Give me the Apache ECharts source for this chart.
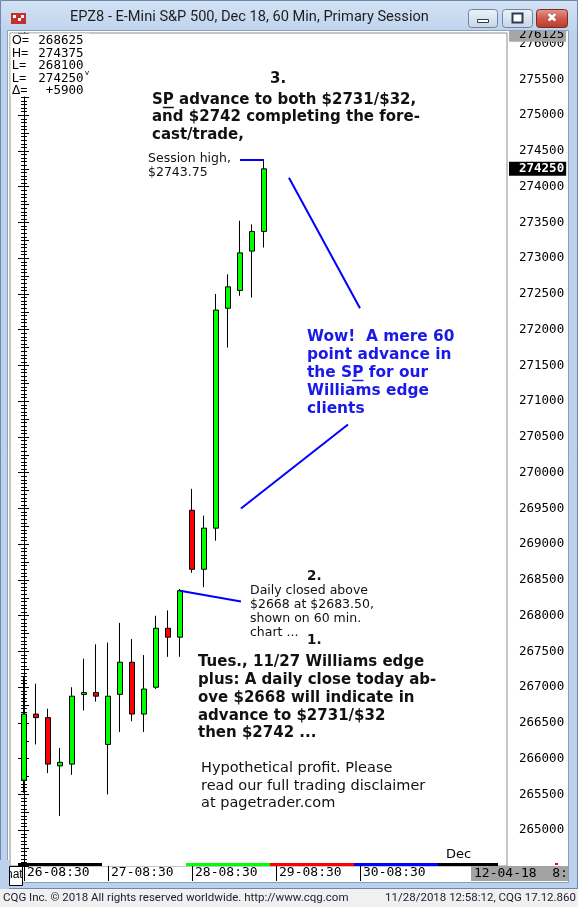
<!DOCTYPE html>
<html><head><meta charset="utf-8">
<script src="https://cdn.jsdelivr.net/npm/echarts@6/dist/echarts.min.js"></script>
<style>html,body{margin:0;padding:0;background:#fff}#c{width:578px;height:907px}</style>
</head><body><div id="c"></div>
<script>
// ---------------- data ----------------
const chartTitle = 'EPZ8 - E-Mini S&P 500, Dec 18, 60 Min, Primary Session';
const barsPerSession = 7;
const candleOpen  = [265700,266625,266575,265900,265925,266900,266925,266200,266900,267350,266625,267000,267825,267700,269475,268650,269225,272300,272550,273100,273375];
const candleClose = [266625,266575,265925,265950,266875,266925,266875,266875,267350,266625,266975,267825,267700,268350,268650,269225,272275,272600,273075,273375,274250];
const candleLow   = [265525,266200,265800,265200,265775,266675,266800,265500,266375,266525,266375,266975,267425,267425,268600,268400,269050,271750,272475,272450,273150];
const candleHigh  = [267150,267050,266700,266150,267000,267400,267600,267625,267900,267675,267450,268000,268075,268375,269775,269400,272500,272775,273525,273475,274375];
const sessionLabels = ['26-08:30','27-08:30','28-08:30','29-08:30','30-08:30'];
const sessionBandColors = ['#000000','#ffffff','#00ff00','#ff0000','#0000ff','#000000'];
const monthLabel = 'Dec';
const monthStartSession = 5;
const headerLabels = ['O=','H=','L=','L=','\u0394='];
const headerValues = ['268625','274375','268100','274250','+5900'];
const lastPrice = 274250;
const scaleTopValue = 276125;
const sessionHigh = 274375;
const dailyClose = 268350;
const yMin = 264500, yMax = 276150, yStep = 500;
const footerLeft = 'CQG Inc. \u00a9 2018 All rights reserved worldwide. http://www.cqg.com';
const footerRight = '11/28/2018 12:58:12, CQG 17.12.860';

// ---------------- chart ----------------
const chart = echarts.init(document.getElementById('c'), null, {renderer:'canvas', width:578, height:907});
const MONO = '"DejaVu Sans Mono", monospace';
const VERD = '"DejaVu Sans", Verdana, sans-serif';
const xMin = -14/12, xMax = -14/12 + 497/12;
const tickIdx = sessionLabels.map((_, i) => i * barsPerSession);
const candleData = candleOpen.map((o, i) => [i, o, candleClose[i], candleLow[i], candleHigh[i]]);
const lastSlot = 39.5;
const bandData = sessionBandColors.map((c, s) => [s * barsPerSession - 0.5, Math.min((s + 1) * barsPerSession - 0.5, lastSlot), s]);

const blue = '#0000ff';
const annLine = (a, b) => [{coord: a, lineStyle: {color: blue, width: 2, type: 'solid', opacity: 1}}, {coord: b}];

// measure helper for underlines
const mctx = document.createElement('canvas').getContext('2d');
function tw(txt, font) { mctx.font = font; return mctx.measureText(txt).width; }

const boldFont = 'bold 15px "DejaVu Sans"';
const txtGraphic = [];
function T(x, y, text, font, size, weight, color, lh, align) {
  txtGraphic.push({type: 'text', x: x, y: y, z: 120, silent: true,
    style: {text: text, fontFamily: font, fontSize: size, fontWeight: weight, fill: color, lineHeight: lh, verticalAlign: 'top', align: align || 'left'}});
}
// header box (covers the left ticks like the original)
txtGraphic.push({type:'rect', z:115, silent:true, shape:{x:10.5, y:33.5, width:79, height:63}, style:{fill:'#fff'}});
headerLabels.forEach((l, i) => {
  T(12, 34.5 + i * 12.5, l, '"Liberation Sans", Arial', 12.5, 'normal', '#000', 13);
  T(83.5, 34.5 + i * 12.5, headerValues[i], MONO, 12.5, 'normal', '#000', 13, 'right');
});
T(85, 69, 'v', '"Liberation Sans", Arial', 8, 'normal', '#000', 8);

// annotation texts
T(270, 71, '3.', VERD, 15, 'bold', '#111', 17);
T(152, 91, 'SP advance to both $2731/$32,\nand $2742 completing the fore-\ncast/trade,', VERD, 15, 'bold', '#111', 17.7);
T(148, 152, 'Session high,\n$2743.75', VERD, 12.5, 'normal', '#111', 13.7);
T(307, 328, 'Wow!  A mere 60\npoint advance in\nthe SP for our\nWilliams edge\nclients', VERD, 15.4, 'bold', '#1a1ae8', 18);
T(307, 569, '2.', VERD, 13.5, 'bold', '#111', 15);
T(250, 584, 'Daily closed above\n$2668 at $2683.50,\nshown on 60 min.\nchart ...', VERD, 12.5, 'normal', '#111', 13.9);
T(307, 633, '1.', VERD, 13.5, 'bold', '#111', 15);
T(198, 653, 'Tues., 11/27 Williams edge\nplus: A daily close today ab-\nove $2668 will indicate in\nadvance to $2731/$32\nthen $2742 ...', VERD, 15, 'bold', '#111', 17.9);
T(201, 759.5, 'Hypothetical profit. Please\nread our full trading disclaimer\nat pagetrader.com', VERD, 14.5, 'normal', '#111', 17.5);
// underlines under "P" of SP
const wS = tw('S', boldFont), wP = tw('P', boldFont);
const wowFont = 'bold 15.4px "DejaVu Sans"';
const wTheS = tw('the S', wowFont), wP2 = tw('P', wowFont);
txtGraphic.push({type:'line', z:120, silent:true, shape:{x1:152 + wS, y1:107.5, x2:152 + wS + wP, y2:107.5}, style:{stroke:'#111', lineWidth:1.5}});
txtGraphic.push({type:'line', z:120, silent:true, shape:{x1:307 + wTheS, y1:380.5, x2:307 + wTheS + wP2, y2:380.5}, style:{stroke:'#1a1ae8', lineWidth:1.5}});

// window chrome
const frame = '#bcd2ec';
const chrome = [
  {type:'rect', z:100, silent:true, shape:{x:0, y:0, width:578, height:31}, style:{fill:{type:'linear', x:0, y:0, x2:0, y2:1, colorStops:[{offset:0, color:'#d3e2f4'}, {offset:1, color:'#bfd4ed'}]}}},
  {type:'rect', z:100, silent:true, shape:{x:0, y:31, width:8, height:858}, style:{fill:frame}},
  {type:'rect', z:100, silent:true, shape:{x:568, y:31, width:10, height:858}, style:{fill:frame}},
  {type:'rect', z:100, silent:true, shape:{x:0, y:882, width:578, height:7}, style:{fill:frame}},
  {type:'rect', z:100, silent:true, shape:{x:0.5, y:0.5, width:577, height:888}, style:{fill:null, stroke:'#6e88aa', lineWidth:1}},
  {type:'rect', z:100, silent:true, shape:{x:7.5, y:30.5, width:561, height:852}, style:{fill:null, stroke:'#8aa0bb', lineWidth:1}},
  {type:'rect', z:100, silent:true, shape:{x:0, y:889, width:578, height:18}, style:{fill:'#f0f0f0'}},
  // icon
  {type:'rect', z:101, silent:true, shape:{x:11, y:13, width:15, height:11}, style:{fill:'#c4312b'}},
  {type:'rect', z:102, silent:true, shape:{x:13, y:15, width:3, height:3}, style:{fill:'#fff'}},
  {type:'rect', z:102, silent:true, shape:{x:18, y:18, width:3, height:3}, style:{fill:'#fff'}},
  {type:'rect', z:102, silent:true, shape:{x:21, y:15, width:3, height:3}, style:{fill:'#fff'}},
  // buttons
  {type:'rect', z:101, silent:true, shape:{x:468.5, y:9.5, width:29, height:18, r:3}, style:{fill:{type:'linear', x:0, y:0, x2:0, y2:1, colorStops:[{offset:0, color:'#eef3fa'}, {offset:1, color:'#c6d4e6'}]}, stroke:'#6f84a3', lineWidth:1}},
  {type:'rect', z:102, silent:true, shape:{x:477.5, y:19.5, width:11, height:3}, style:{fill:'#fff', stroke:'#2d3b50', lineWidth:1}},
  {type:'rect', z:101, silent:true, shape:{x:502.5, y:9.5, width:30, height:18, r:3}, style:{fill:{type:'linear', x:0, y:0, x2:0, y2:1, colorStops:[{offset:0, color:'#eef3fa'}, {offset:1, color:'#c6d4e6'}]}, stroke:'#6f84a3', lineWidth:1}},
  {type:'rect', z:102, silent:true, shape:{x:512.5, y:13.5, width:10, height:9}, style:{fill:'#fff', stroke:'#2d3b50', lineWidth:2}},
  {type:'rect', z:101, silent:true, shape:{x:536.5, y:9.5, width:31, height:18, r:3}, style:{fill:{type:'linear', x:0, y:0, x2:0, y2:1, colorStops:[{offset:0, color:'#e49a8f'}, {offset:0.5, color:'#cf5a4b'}, {offset:1, color:'#b83a2a'}]}, stroke:'#7b2a22', lineWidth:1}},
  {type:'text', z:103, silent:true, x:552, y:18.5, style:{text:'\u2716', fontSize:13, fill:'#fff', align:'center', verticalAlign:'middle', fontFamily:'"DejaVu Sans"', stroke:'#7b2a22', lineWidth:0.5}},
  // hat box
  {type:'rect', z:104, silent:true, shape:{x:9.5, y:866.5, width:13, height:19}, style:{fill:'#fff', stroke:'#000', lineWidth:1}},
  {type:'text', z:105, silent:true, x:6, y:869, style:{text:'hat', fontSize:12, fill:'#000', fontFamily:'"Liberation Sans"', verticalAlign:'top'}},
  {type:'rect', z:106, silent:true, shape:{x:0, y:860, width:9, height:29}, style:{fill:frame}},
  // footer
  {type:'text', z:110, silent:true, x:3, y:898.5, style:{text:footerLeft, fontSize:11.5, fill:'#1b1b2f', fontFamily:'Roboto, "Noto Sans"', verticalAlign:'middle'}},
  {type:'text', z:110, silent:true, x:576, y:898.5, style:{text:footerRight, fontSize:11.5, fill:'#1b1b2f', fontFamily:'Roboto, "Noto Sans"', verticalAlign:'middle', align:'right'}},
  // date box at right bottom
  {type:'rect', z:90, silent:true, shape:{x:471, y:866, width:97, height:15}, style:{fill:'#a3a3a3'}},
  {type:'text', z:91, silent:true, x:474, y:873.5, style:{text:'12-04-18  8:', fontSize:13, fill:'#000', fontFamily:MONO, verticalAlign:'middle'}},
  {type:'rect', z:92, silent:true, shape:{x:555, y:863, width:3, height:2}, style:{fill:'#ff0000'}}
];

const hiddenLine = {color: 'rgba(0,0,0,0)', width: 1, opacity: 1, type: 'solid'};
const option = {
  animation: false,
  backgroundColor: '#ffffff',
  title: {text: chartTitle, left: 65, top: 5, z: 200, textStyle: {fontFamily: 'Roboto, "Noto Sans"', fontSize: 14.6, fontWeight: 'normal', color: '#1e1e1e'}},
  grid: {left: 10, right: 71, top: 33, bottom: 41, show: true, borderColor: '#8c8c8c', borderWidth: 1, backgroundColor: '#fff'},
  xAxis: [
    {type: 'value', min: xMin, max: xMax, position: 'bottom',
      axisLine: {show: false}, splitLine: {show: false},
      axisTick: {show: true, customValues: tickIdx, length: 15, lineStyle: {color: '#000', width: 1}},
      axisLabel: {customValues: tickIdx, formatter: v => sessionLabels[Math.round(v / barsPerSession)], align: 'left', padding: [0, 0, 0, 3], margin: 0, lineHeight: 14, fontFamily: MONO, fontSize: 13, color: '#000'}},
    {type: 'value', min: xMin, max: xMax, position: 'bottom', offset: 0,
      axisLine: {show: false}, splitLine: {show: false}, axisTick: {show: false},
      axisLabel: {inside: true, customValues: [monthStartSession * barsPerSession], formatter: () => monthLabel, align: 'left', padding: [0, 0, 0, 2], margin: 5, fontFamily: VERD, fontSize: 13, color: '#000'}}
  ],
  yAxis: [
    {type: 'value', position: 'right', min: yMin, max: yMax, interval: yStep,
      axisLine: {show: true, lineStyle: {color: '#000'}}, splitLine: {show: false},
      axisTick: {show: true, inside: true, length: 6, lineStyle: {color: '#000'}},
      minorTick: {show: true, splitNumber: 10, length: 3, lineStyle: {color: '#000'}},
      axisLabel: {showMinLabel: false, showMaxLabel: false, margin: 12, fontFamily: MONO, fontSize: 12.5, color: '#000', align: 'left', formatter: v => String(v)}},
    {type: 'value', position: 'left', min: yMin, max: yMax, interval: yStep / 2,
      axisLine: {show: true, lineStyle: {color: '#000'}}, splitLine: {show: false},
      axisTick: {show: true, inside: true, length: 5, lineStyle: {color: '#000'}},
      minorTick: {show: true, splitNumber: 5, length: 3, lineStyle: {color: '#000'}},
      axisLabel: {show: false}}
  ],
  series: [
    {type: 'custom', xAxisIndex: 0, yAxisIndex: 0, clip: false, silent: true, z: 1,
      data: bandData,
      renderItem: (params, api) => {
        const p0 = api.coord([api.value(0), yMin]);
        const p1 = api.coord([api.value(1), yMin]);
        return {type: 'rect', shape: {x: p0[0], y: p0[1] - 3, width: p1[0] - p0[0], height: 3}, style: {fill: sessionBandColors[api.value(2)]}};
      }},
    {type: 'candlestick', xAxisIndex: 0, yAxisIndex: 0, barWidth: 6,
      data: candleData, encode: {x: 0, y: [1, 2, 3, 4]},
      itemStyle: {color: '#00ff00', color0: '#ff0000', borderColor: '#000', borderColor0: '#000', borderWidth: 1},
      markLine: {silent: true, symbol: ['none', 'none'], animation: false, precision: 2,
        label: {show: true, position: 'end'},
        data: [
          annLine([18, sessionHigh], [candleOpen.length - 1, sessionHigh]),
          annLine([22.08, 274125], [28, 272300]),
          annLine([27, 270675], [18.08, 269500]),
          annLine([13, dailyClose], [18.08, 268200])
        ].map(d => { d[0].label = {show: false}; return d; }).concat([
          {yAxis: lastPrice, lineStyle: hiddenLine,
            label: {show: true, position: 'end', distance: 2, formatter: String(lastPrice), color: '#fff', backgroundColor: '#000', padding: [2, 2, 1, 10], fontFamily: MONO, fontSize: 12.5, fontWeight: 'bold', lineHeight: 11}},
          {yAxis: scaleTopValue, lineStyle: hiddenLine,
            label: {show: true, position: 'end', distance: 2, formatter: String(scaleTopValue), color: '#000', backgroundColor: '#a6a6a6', padding: [2, 2, 1, 10], fontFamily: MONO, fontSize: 12.5, lineHeight: 11}}
        ])}
    }
  ],
  graphic: {elements: chrome.concat(txtGraphic)}
};
chart.setOption(option);
</script>
</body></html>
